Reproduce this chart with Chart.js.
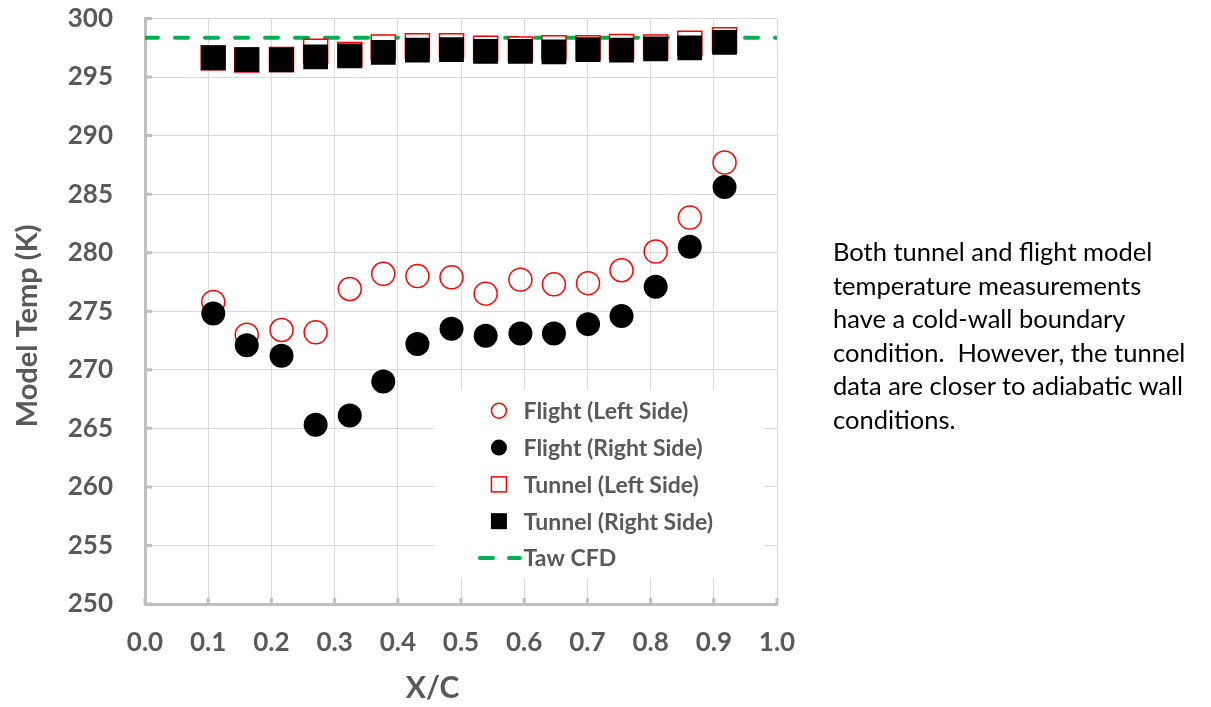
<!DOCTYPE html>
<html>
<head>
<meta charset="utf-8">
<script src="https://cdn.jsdelivr.net/npm/chart.js@4.4.1/dist/chart.umd.min.js"></script>
<style>
  html, body { margin: 0; padding: 0; background: #fff; }
  #wrap { position: relative; width: 1211px; height: 707px; }
  #note {
    position: absolute; left: 833px; top: 235px; width: 378px;
    font-family: Lato, "Open Sans", sans-serif; font-size: 25.5px;
    line-height: 33.6px; color: #000; white-space: nowrap;
  }
</style>
</head>
<body>
<div id="wrap">
  <canvas id="chart" width="1211" height="707"></canvas>
  <div id="note">Both tunnel and flight model<br>temperature measurements<br>have a cold-wall boundary<br>condition.&nbsp; However, the tunnel<br>data are closer to adiabatic wall<br>conditions.</div>
</div>
<script>
// stations along the chord (X/C), shared by all four measured series
const xc = [0.108, 0.161, 0.216, 0.270, 0.324, 0.377, 0.431, 0.485,
            0.539, 0.594, 0.647, 0.701, 0.754, 0.808, 0.862, 0.917];

const flightLeft  = [275.8, 273.0, 273.4, 273.2, 276.9, 278.2, 278.0, 277.9,
                     276.5, 277.7, 277.3, 277.4, 278.5, 280.1, 283.0, 287.7];
const flightRight = [274.8, 272.1, 271.2, 265.3, 266.1, 269.0, 272.2, 273.5,
                     272.9, 273.1, 273.1, 273.9, 274.6, 277.1, 280.5, 285.6];
const tunnelLeft  = [296.65, 296.45, 296.5, 297.2, 296.93, 297.57, 297.68, 297.68,
                     297.46, 297.4, 297.5, 297.5, 297.6, 297.57, 297.88, 298.18];
const tunnelRight = [296.64, 296.49, 296.46, 296.72, 296.8, 297.1, 297.3, 297.35,
                     297.2, 297.2, 297.15, 297.35, 297.3, 297.4, 297.5, 297.97];

const tawX = [0, 1];
const tawY = [298.36, 298.36];

const labels = ["Flight (Left Side)", "Flight (Right Side)", "Tunnel (Left Side)",
                "Tunnel (Right Side)", "Taw CFD"];
const xTitle = "X/C";
const yTitle = "Model Temp (K)";

const AXIS = "#bfbfbf";
const GRID = "#d9d9d9";
const TEXT = "#595959";
const RED = "#ff0000";
const GREEN = "#00b050";
const FONT = "Lato, 'Open Sans', sans-serif";

const pts = (xs, ys) => xs.map((x, i) => ({ x: x, y: ys[i] }));

// ticks on the inside of the axes, like the original
const innerTicks = {
  id: "innerTicks",
  afterDraw(chart) {
    const { ctx, scales: { x, y }, chartArea: a } = chart;
    ctx.save();
    ctx.strokeStyle = AXIS;
    ctx.lineWidth = 3;
    ctx.beginPath();
    x.ticks.forEach(t => {
      const px = x.getPixelForValue(t.value);
      ctx.moveTo(px, a.bottom);
      ctx.lineTo(px, a.bottom - 6);
    });
    y.ticks.forEach(t => {
      const py = y.getPixelForValue(t.value);
      ctx.moveTo(a.left, py);
      ctx.lineTo(a.left + 7, py);
    });
    ctx.stroke();
    ctx.restore();
  }
};

// axis titles, placed a little off-centre as in the source figure
const axisTitles = {
  id: "axisTitles",
  afterDraw(chart) {
    const { ctx, chartArea: a } = chart;
    const w = a.right - a.left, h = a.bottom - a.top;
    ctx.save();
    ctx.fillStyle = TEXT;
    ctx.textAlign = "center";
    ctx.textBaseline = "middle";
    ctx.font = "bold 30px " + FONT;
    ctx.fillText(xTitle, a.left + w * 0.455, a.bottom + 84);
    ctx.translate(28, a.top + h * 0.525);
    ctx.rotate(-Math.PI / 2);
    ctx.font = "bold 29px " + FONT;
    ctx.fillText(yTitle, 0, 0);
    ctx.restore();
  }
};

// legend box sitting inside the plot area
const boxLegend = {
  id: "boxLegend",
  afterDatasetsDraw(chart) {
    const { ctx, chartArea: a } = chart;
    const w = a.right - a.left, h = a.bottom - a.top;
    const bx = a.left + w * 0.459, by = a.top + h * 0.635;
    const bw = w * 0.52, bh = h * 0.32;
    ctx.save();
    ctx.fillStyle = "#fff";
    ctx.fillRect(bx, by, bw, bh);
    const mx = a.left + w * 0.560;
    const tx = a.left + w * 0.599;
    const row0 = a.top + h * 0.670, step = 36.8;
    ctx.font = "bold 23px " + FONT;
    ctx.textBaseline = "middle";
    labels.forEach((lab, i) => {
      const cy = row0 + i * step;
      ctx.lineWidth = 1.5;
      if (i === 0) {
        ctx.strokeStyle = RED;
        ctx.beginPath(); ctx.arc(mx, cy, 7.5, 0, Math.PI * 2); ctx.stroke();
      } else if (i === 1) {
        ctx.fillStyle = "#000";
        ctx.beginPath(); ctx.arc(mx, cy, 8, 0, Math.PI * 2); ctx.fill();
      } else if (i === 2) {
        ctx.strokeStyle = RED;
        ctx.strokeRect(mx - 7.5, cy - 7.5, 15, 15);
      } else if (i === 3) {
        ctx.fillStyle = "#000";
        ctx.fillRect(mx - 8, cy - 8, 16, 16);
      } else {
        ctx.strokeStyle = GREEN;
        ctx.lineWidth = 4;
        ctx.lineCap = "round";
        ctx.setLineDash([13, 16]);
        ctx.beginPath(); ctx.moveTo(mx - 19, cy); ctx.lineTo(mx + 21, cy); ctx.stroke();
        ctx.setLineDash([]);
      }
      ctx.fillStyle = TEXT;
      ctx.fillText(lab, tx, cy + 1);
    });
    ctx.restore();
  }
};

new Chart(document.getElementById("chart"), {
  type: "scatter",
  data: {
    datasets: [
      {
        label: labels[1], data: pts(xc, flightRight), order: 1,
        pointStyle: "circle", pointRadius: 12, pointHoverRadius: 12,
        backgroundColor: "#000", borderColor: "#000", borderWidth: 0
      },
      {
        label: labels[3], data: pts(xc, tunnelRight), order: 2,
        pointStyle: "rect", pointRadius: 17.5, pointHoverRadius: 17.5,
        backgroundColor: "#000", borderColor: "#000", borderWidth: 0
      },
      {
        label: labels[0], data: pts(xc, flightLeft), order: 3,
        pointStyle: "circle", pointRadius: 11.5, pointHoverRadius: 11.5,
        backgroundColor: "rgba(255,255,255,0)", borderColor: RED, borderWidth: 1.5
      },
      {
        label: labels[2], data: pts(xc, tunnelLeft), order: 4,
        pointStyle: "rect", pointRadius: 17, pointHoverRadius: 17,
        backgroundColor: "#fff", borderColor: RED, borderWidth: 1.5
      },
      {
        label: labels[4], data: pts(tawX, tawY), order: 5,
        showLine: true, pointRadius: 0, borderColor: GREEN, borderWidth: 4,
        borderDash: [13, 17], borderCapStyle: "round"
      }
    ]
  },
  options: {
    responsive: false,
    animation: false,
    layout: { padding: { left: 0, right: 434, top: 17, bottom: 0 } },
    plugins: { legend: { display: false }, tooltip: { enabled: false } },
    scales: {
      x: {
        type: "linear", min: 0, max: 1,
        afterFit: s => { s.height = 103; },
        grid: { color: GRID, lineWidth: 1, drawTicks: true, tickLength: 21, tickColor: "rgba(0,0,0,0)" },
        border: { color: AXIS, width: 3 },
        ticks: {
          stepSize: 0.1, padding: 2, color: TEXT,
          font: { family: FONT, size: 26, weight: "bold" },
          callback: v => v.toFixed(1)
        }
      },
      y: {
        type: "linear", min: 250, max: 300,
        afterFit: s => { s.width = 145; },
        grid: { color: GRID, lineWidth: 1, drawTicks: true, tickLength: 31, tickColor: "rgba(0,0,0,0)" },
        border: { color: AXIS, width: 3 },
        ticks: {
          stepSize: 5, padding: 1, color: TEXT,
          font: { family: FONT, size: 26, weight: "bold" }
        }
      }
    }
  },
  plugins: [innerTicks, axisTitles, boxLegend]
});
</script>
</body>
</html>
